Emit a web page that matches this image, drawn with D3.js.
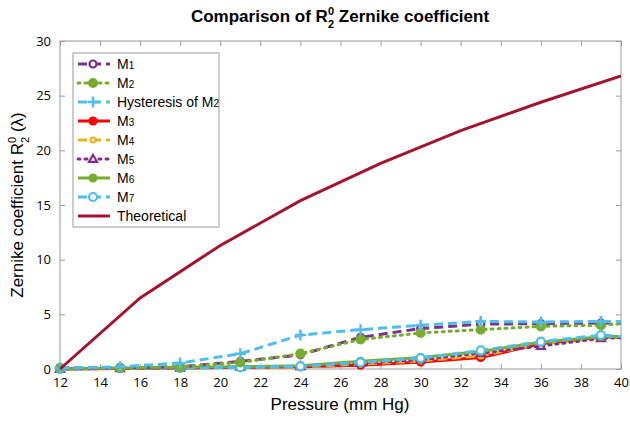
<!DOCTYPE html>
<html><head><meta charset="utf-8">
<script src="https://cdn.jsdelivr.net/npm/d3@7"></script>
<style>
html,body{margin:0;padding:0;background:#fff;}
svg{display:block;font-family:"Liberation Sans",Arial,sans-serif;}
</style></head>
<body><svg id="c" width="630" height="422"></svg>
<script>
// ---- data ----
const pressure = [12, 15, 18, 21, 24, 27, 30, 33, 36, 39, 42];
const m1   = [0.1, 0.1, 0.2, 0.7, 1.3, 2.9, 3.7, 4.1, 4.15, 4.2, 4.3];
const m2   = [0.1, 0.1, 0.2, 0.6, 1.4, 2.7, 3.3, 3.6, 3.9, 4.0, 4.4];
const hyst = [0.1, 0.2, 0.55, 1.4, 3.1, 3.6, 4.0, 4.35, 4.3, 4.35, 4.3];
const m3   = [0.0, 0.05, 0.1, 0.15, 0.2, 0.35, 0.65, 1.05, 2.3, 2.9, 3.0];
const m4   = [0.0, 0.05, 0.1, 0.15, 0.2, 0.45, 0.75, 1.2, 2.3, 2.9, 3.0];
const m5   = [0.0, 0.05, 0.1, 0.2, 0.25, 0.55, 0.85, 1.45, 2.1, 2.8, 3.0];
const m6   = [0.0, 0.1, 0.15, 0.2, 0.3, 0.7, 1.05, 1.6, 2.45, 2.95, 3.0];
const m7   = [0.0, 0.1, 0.1, 0.15, 0.25, 0.6, 1.0, 1.7, 2.5, 3.1, 2.7];
const theoPressure = [12, 16, 20, 24, 28, 32, 36, 40];
const theoretical  = [0, 6.5, 11.3, 15.4, 18.8, 21.8, 24.4, 26.8];
const xTicks = [12, 14, 16, 18, 20, 22, 24, 26, 28, 30, 32, 34, 36, 38, 40];
const yTicks = [0, 5, 10, 15, 20, 25, 30];
const seriesNames = ["M1", "M2", "Hysteresis of M2", "M3", "M4", "M5", "M6", "M7", "Theoretical"];

// ---- styles ----
const styles = [
  {vals: m1,   color: "#7E2F8E", dash: "9,5", marker: "circle", fill: "#fff", r: 3.5},
  {vals: m2,   color: "#77AC30", dash: "2,5", marker: "circle", fill: "#77AC30", r: 4},
  {vals: hyst, color: "#4DBEEE", dash: "9,5", marker: "plus", fill: "none", r: 5.5},
  {vals: m3,   color: "#FF0000", dash: null,  marker: "circle", fill: "#FF0000", r: 3.5},
  {vals: m4,   color: "#EDB120", dash: "9,5", marker: "circle", fill: "#fff", r: 2.5},
  {vals: m5,   color: "#7E2F8E", dash: "2,5", marker: "triangle", fill: "#fff", r: 4},
  {vals: m6,   color: "#77AC30", dash: null,  marker: "circle", fill: "#77AC30", r: 3.5},
  {vals: m7,   color: "#4DBEEE", dash: "9,5", marker: "circle", fill: "#fff", r: 4},
];

const svg = d3.select("#c");
const L = 60, R = 621, T = 41, B = 369;
const x = d3.scaleLinear().domain([12, 40]).range([L, R]);
const y = d3.scaleLinear().domain([0, 30]).range([B, T]);

// title
const title = svg.append("text").attr("x", 340).attr("y", 22).attr("text-anchor", "middle")
  .attr("font-size", 17).attr("font-weight", "bold").attr("fill", "#000");
title.append("tspan").text("Comparison of R");
title.append("tspan").attr("font-size", 11).attr("dy", -7).text("0");
title.append("tspan").attr("font-size", 11).attr("dx", -6).attr("dy", 13).text("2");
title.append("tspan").attr("dy", -6).text(" Zernike coefficient");

// axes box
const axisColor = "#9a9a9a";
svg.append("rect").attr("x", L).attr("y", T).attr("width", R - L).attr("height", B - T)
  .attr("fill", "none").attr("stroke", axisColor).attr("stroke-width", 1);

const tickFont = "'Open Sans','DejaVu Sans',sans-serif";
const xb = svg.append("g").attr("transform", `translate(0,${B})`)
  .call(d3.axisBottom(x).tickValues(xTicks).tickSizeInner(-5).tickSizeOuter(0).tickPadding(9));
const xt = svg.append("g").attr("transform", `translate(0,${T})`)
  .call(d3.axisTop(x).tickValues(xTicks).tickSizeInner(-5).tickSizeOuter(0).tickFormat(""));
const yl = svg.append("g").attr("transform", `translate(${L},0)`)
  .call(d3.axisLeft(y).tickValues(yTicks).tickSizeInner(-5).tickSizeOuter(0).tickPadding(9));
const yr = svg.append("g").attr("transform", `translate(${R},0)`)
  .call(d3.axisRight(y).tickValues(yTicks).tickSizeInner(-5).tickSizeOuter(0).tickFormat(""));
[xb, xt, yl, yr].forEach(g => {
  g.select(".domain").remove();
  g.selectAll(".tick line").attr("stroke", axisColor);
  g.selectAll(".tick text").attr("font-family", tickFont).attr("font-size", 13).attr("fill", "#000");
});

// axis labels
svg.append("text").attr("x", 340).attr("y", 410).attr("text-anchor", "middle")
  .attr("font-size", 17).attr("fill", "#000").text("Pressure (mm Hg)");
const yLab = svg.append("text").attr("transform", "translate(23,205) rotate(-90)")
  .attr("text-anchor", "middle").attr("font-size", 17).attr("fill", "#000");
yLab.append("tspan").text("Zernike coefficient R");
yLab.append("tspan").attr("font-size", 11).attr("dy", -7).text("0");
yLab.append("tspan").attr("font-size", 11).attr("dx", -6).attr("dy", 13).text("2");
yLab.append("tspan").attr("dy", -6).text(" (λ)");

// clip
svg.append("defs").append("clipPath").attr("id", "clip")
  .append("rect").attr("x", L - 12).attr("y", T - 12).attr("width", R - L + 12).attr("height", B - T + 24);
const plot = svg.append("g").attr("clip-path", "url(#clip)");

function drawMarker(g, type, cx, cy, s) {
  if (type === "circle") {
    g.append("circle").attr("cx", cx).attr("cy", cy).attr("r", s.r)
      .attr("fill", s.fill).attr("stroke", s.color).attr("stroke-width", 2.2);
  } else if (type === "plus") {
    g.append("path").attr("d", `M${cx - s.r},${cy}H${cx + s.r}M${cx},${cy - s.r}V${cy + s.r}`)
      .attr("stroke", s.color).attr("stroke-width", 2.5).attr("fill", "none");
  } else if (type === "triangle") {
    const r = s.r;
    g.append("path").attr("d", `M${cx},${cy - r}L${cx + r},${cy + r * 0.7}L${cx - r},${cy + r * 0.7}Z`)
      .attr("fill", s.fill).attr("stroke", s.color).attr("stroke-width", 2.2);
  }
}

const line = d3.line().x(d => x(d[0])).y(d => y(d[1]));

const order = [3, 4, 5, 6, 7, 0, 1, 2];
order.forEach(i => {
  const s = styles[i];
  const pts = pressure.map((p, k) => [p, s.vals[k]]);
  const g = plot.append("g");
  g.append("path").attr("d", line(pts)).attr("fill", "none").attr("stroke", s.color)
    .attr("stroke-width", 3).attr("stroke-dasharray", s.dash).attr("stroke-linecap", s.dash === "2,5" ? "round" : "butt");
  pts.forEach(p => drawMarker(g, s.marker, x(p[0]), y(p[1]), s));
});

plot.append("path").attr("d", line(theoPressure.map((p, k) => [p, theoretical[k]])))
  .attr("fill", "none").attr("stroke", "#A2142F").attr("stroke-width", 3);

// legend
const lg = svg.append("g");
lg.append("rect").attr("x", 73).attr("y", 53).attr("width", 146).attr("height", 174)
  .attr("fill", "#fff").attr("stroke", "#9a9a9a").attr("stroke-width", 1);
seriesNames.forEach((name, i) => {
  const yy = 64 + i * 19;
  const row = lg.append("g");
  if (i < 8) {
    const s = styles[i];
    row.append("line").attr("x1", 78).attr("x2", 110).attr("y1", yy).attr("y2", yy)
      .attr("stroke", s.color).attr("stroke-width", 3).attr("stroke-dasharray", s.dash)
      .attr("stroke-linecap", s.dash === "2,5" ? "round" : "butt");
    drawMarker(row, s.marker, 93, yy, s);
  } else {
    row.append("line").attr("x1", 78).attr("x2", 110).attr("y1", yy).attr("y2", yy)
      .attr("stroke", "#A2142F").attr("stroke-width", 3);
  }
  const t = row.append("text").attr("x", 117).attr("y", yy + 5).attr("font-size", 14).attr("fill", "#000");
  const m = name.match(/^(.*M)(\d)$/);
  if (m) {
    t.append("tspan").text(m[1]);
    t.append("tspan").attr("font-size", 10).text(m[2]);
  } else {
    t.text(name);
  }
});
</script></body></html>
